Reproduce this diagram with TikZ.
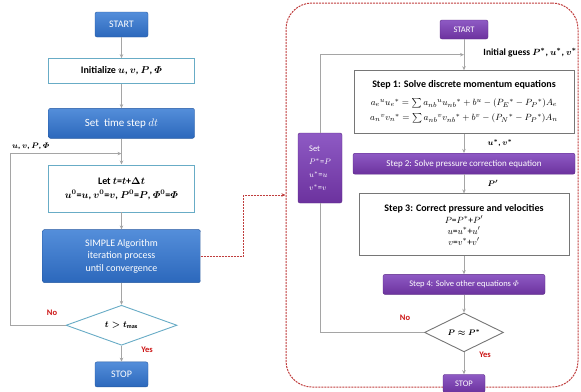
\documentclass[tikz,border=0pt]{standalone}
\usepackage{amsmath,amssymb}
\usepackage{fontspec}
\setmainfont{Carlito}
\usepackage{tikz}
\usetikzlibrary{arrows.meta,positioning,shapes.geometric,calc}

\definecolor{flowblue}{RGB}{44,104,188}
\definecolor{flowbluetop}{RGB}{84,142,218}
\definecolor{flowteal}{RGB}{104,172,198}
\definecolor{simplepurple}{RGB}{108,50,158}
\definecolor{simplepurpletop}{RGB}{142,90,196}
\definecolor{linegray}{RGB}{165,165,165}
\definecolor{boxgray}{RGB}{118,118,118}
\definecolor{dashred}{RGB}{192,62,62}
\definecolor{answerred}{RGB}{204,20,20}

\begin{document}
\begin{tikzpicture}[
  x=1pt, y=-1pt, >={Stealth[length=4pt,width=3.5pt]},
  bluebox/.style={draw=flowblue!85!black, rounded corners=2pt, top color=flowbluetop, bottom color=flowblue, text=white, font=\fontsize{10}{12.5}\selectfont, align=center, inner sep=1pt},
  tealbox/.style={draw=flowteal, line width=0.9pt, fill=white, font=\bfseries\boldmath\fontsize{10}{12}\selectfont, align=center, inner sep=1pt},
  purplebox/.style={draw=simplepurple!85!black, rounded corners=2pt, top color=simplepurpletop, bottom color=simplepurple, text=white, font=\fontsize{8.5}{10}\selectfont, align=center, inner sep=1pt},
  stepbox/.style={draw=boxgray, line width=0.8pt, fill=white, font=\fontsize{9.5}{11}\selectfont, align=center, inner sep=1pt},
  decision/.style={diamond, draw=flowteal, line width=0.9pt, fill=white, inner sep=0pt, font=\bfseries\boldmath\fontsize{9}{11}\selectfont},
  flowarrow/.style={->, linegray, line width=0.8pt},
  flowline/.style={linegray, line width=0.8pt},
  dashlink/.style={->, dashred, line width=1pt, dash pattern=on 2pt off 1pt},
  answer/.style={text=answerred, font=\bfseries\fontsize{8.5}{10}\selectfont, inner sep=0pt},
  varlabel/.style={font=\bfseries\boldmath\fontsize{8.5}{10}\selectfont, inner sep=0pt}
]
\useasboundingbox (0,0) rectangle (581,391);

% outer time loop
\node[bluebox, minimum width=53pt, minimum height=25pt] (start) at (121.5,24.5) {START};
\node[tealbox, minimum width=146pt, minimum height=25pt, below=21pt of start] (init) {Initialize $u$, $v$, $P$, $\varPhi$};
\node[bluebox, minimum width=146pt, minimum height=30pt, below=24pt of init, font=\fontsize{11}{13}\selectfont] (dt) {Set\ \ time step $dt$};
\node[tealbox, minimum width=146pt, minimum height=47pt, below=26pt of dt] (let) {Let $t$=$t$+$\Delta t$\\[2pt] $u^0$=$u$, $v^0$=$v$, $P^0$=$P$, $\varPhi^0$=$\varPhi$};
\node[bluebox, minimum width=158pt, minimum height=53pt, below=17pt of let] (simple) {SIMPLE Algorithm\\ iteration process\\ until convergence};
\node[decision, minimum width=111pt, minimum height=40pt, below=22pt of simple] (cond) {$t>t_{\max}$};
\node[bluebox, minimum width=53pt, minimum height=25pt, below=16pt of cond] (stop) {STOP};

\coordinate (merge) at ($(dt.south)!0.58!(let.north)$);
\coordinate (loopx) at (10,0);

\draw[flowarrow] (start) -- (init);
\draw[flowarrow] (init) -- (dt);
\draw[flowarrow] (dt) -- (let);
\draw[flowarrow] (let) -- (simple);
\draw[flowarrow] (simple) -- (cond);
\draw[flowarrow] (cond) -- (stop);
\draw[flowarrow] (cond.west) -- (cond.west -| loopx) |- (merge);

\node[varlabel, anchor=south west] (loopvars) at (12,150) {$u$, $v$, $P$, $\varPhi$};
\node[answer] (noleft) at (52,313) {No};
\node[answer] (yesleft) at (147,350) {Yes};

% SIMPLE algorithm
\node[draw=dashred, dash pattern=on 2pt off 1pt, line width=1pt, rounded corners=26pt, minimum width=292pt, minimum height=384pt, inner sep=0pt] (frame) at (432,195) {};
\draw[dashlink] (simple.east) -- ++(43,0) |- (frame.west);

\node[purplebox, minimum width=48pt, minimum height=19pt] (rstart) at (464,29.5) {START};
\node[stepbox, minimum width=220pt, minimum height=63pt, below=31pt of rstart] (step1) {\textbf{\fontsize{10}{12}\selectfont Step 1: Solve discrete momentum equations}\\[7pt]
  ${a_e}^u {u_e}^* = \sum {a_{nb}}^u {u_{nb}}^* + b^u - ({P_E}^* - {P_P}^*)A_e$\\[4pt]
  ${a_n}^v {v_n}^* = \sum {a_{nb}}^v {v_{nb}}^* + b^v - ({P_N}^* - {P_P}^*)A_n$};
\node[purplebox, minimum width=222pt, minimum height=21pt, below=19pt of step1, font=\fontsize{9}{11}\selectfont] (step2) {Step 2: Solve pressure correction equation};
\node[stepbox, minimum width=210pt, minimum height=62pt, below=19pt of step2] (step3) {\textbf{\fontsize{10}{12}\selectfont Step 3: Correct pressure and velocities}\\[1pt]
  $P$=$P^*$+$P'$\\ $u$=$u^*$+$u'$\\ $v$=$v^*$+$v'$};
\node[purplebox, minimum width=162pt, minimum height=20pt, below=18pt of step3] (step4) {Step 4: Solve other equations $\varPhi$};
\node[decision, draw=boxgray, minimum width=79pt, minimum height=33pt, below=18pt of step4, font=\bfseries\boldmath\fontsize{8}{10}\selectfont] (rcond) {$P\approx P^*$};
\node[purplebox, minimum width=42pt, minimum height=18pt, below=22pt of rcond] (rstop) {STOP};

\node[purplebox, minimum width=44pt, minimum height=70pt, align=left, font=\fontsize{8.5}{13}\selectfont] (setbox) at (320,168) {Set\\ $P^*$=$P$\\ $u^*$=$u$\\ $v^*$=$v$};

\coordinate (guessin) at ($(rstart.south)!0.5!(step1.north)$);

\draw[flowarrow] (rstart) -- (step1);
\draw[flowarrow] (step1) -- (step2);
\draw[flowarrow] (step2) -- (step3);
\draw[flowarrow] (step3) -- (step4);
\draw[flowarrow] (step4) -- (rcond);
\draw[flowarrow] (rcond) -- (rstop);
\draw[flowline] (rcond.west) -| (setbox.south);
\draw[flowarrow] (setbox.north) |- (guessin);

\node[varlabel, anchor=east, font=\bfseries\boldmath\fontsize{9.5}{11}\selectfont] (guesslabel) at (577,53) {Initial guess $P^*$, $u^*$, $v^*$};
\node[varlabel] (uvstar) at (500,143) {$u^*$, $v^*$};
\node[varlabel] (pprime) at (493,183) {$P'$};
\node[answer] (noright) at (405,318) {No};
\node[answer] (yesright) at (485,355) {Yes};

\end{tikzpicture}
\end{document}
